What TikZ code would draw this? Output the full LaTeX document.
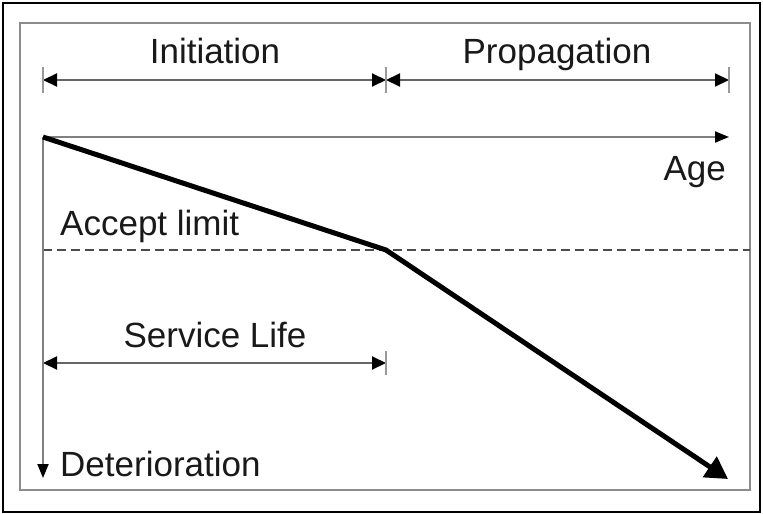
\documentclass[tikz,border=0pt]{standalone}
\usepackage{fontspec}
\setmainfont{Liberation Sans}
\usetikzlibrary{arrows.meta}
\begin{document}
\begin{tikzpicture}[x=1pt,y=-1pt,
  lbl/.style={font=\fontsize{35}{40}\selectfont, inner sep=0pt, text=black!90},
  axis/.style={draw=black!50, line width=2pt, -{Triangle[length=14pt,width=11pt,color=black]}},
  dim/.style={draw=black!60, line width=2pt, {Triangle[length=14pt,width=13pt,color=black]}-{Triangle[length=14pt,width=13pt,color=black]}},
  tick/.style={draw=black!40, line width=2pt},
  curve/.style={draw=black, line width=5pt, line join=round, -{Triangle[length=22pt,width=24pt,color=black]}},
  limit/.style={draw=black!70, line width=1.5pt, dash pattern=on 9pt off 5pt}]
\useasboundingbox (0,0) rectangle (763,514);
\fill[white] (0,0) rectangle (763,514);
% frames
\draw[black, line width=2pt] (3,3) rectangle (760,512);
\draw[black!45, line width=2pt] (20,23) rectangle (750,490);

% key points
\coordinate (o) at (43,137);
\coordinate (xend) at (729,137);
\coordinate (yend) at (43,478);
\coordinate (knee) at (386,250);
\coordinate (tip) at (728,479);
\coordinate (dl) at (43,80);
\coordinate (dm) at (386,80);
\coordinate (dr) at (729,80);
\coordinate (sl) at (43,363);
\coordinate (sr) at (386,363);
\coordinate (ll) at (43,250);
\coordinate (lr) at (750,250);

% acceptance limit
\draw[limit] (ll) -- (lr);

% phase dimension lines
\draw[dim] (dl) -- (dm);
\draw[dim] (dm) -- (dr);
\draw[tick] (43,67) -- (43,93);
\draw[tick] (386,67) -- (386,93);
\draw[tick] (729,67) -- (729,93);

% service life dimension
\draw[dim] (sl) -- (sr);
\draw[tick] (386,351) -- (386,375);

% axes
\draw[axis] (o) -- (xend);
\draw[axis] (o) -- (yend);

% deterioration curve
\draw[curve] (o) -- (knee) -- (tip);

% labels
\node[lbl, anchor=base] (init) at (215,63) {Initiation};
\node[lbl, anchor=base] (prop) at (557,63) {Propagation};
\node[lbl, anchor=base east] (age) at (726,180) {Age};
\node[lbl, anchor=base west] (acc) at (60,235) {Accept limit};
\node[lbl, anchor=base] (serv) at (215,347) {Service Life};
\node[lbl, anchor=base west] (det) at (60,476) {Deterioration};
\end{tikzpicture}
\end{document}
